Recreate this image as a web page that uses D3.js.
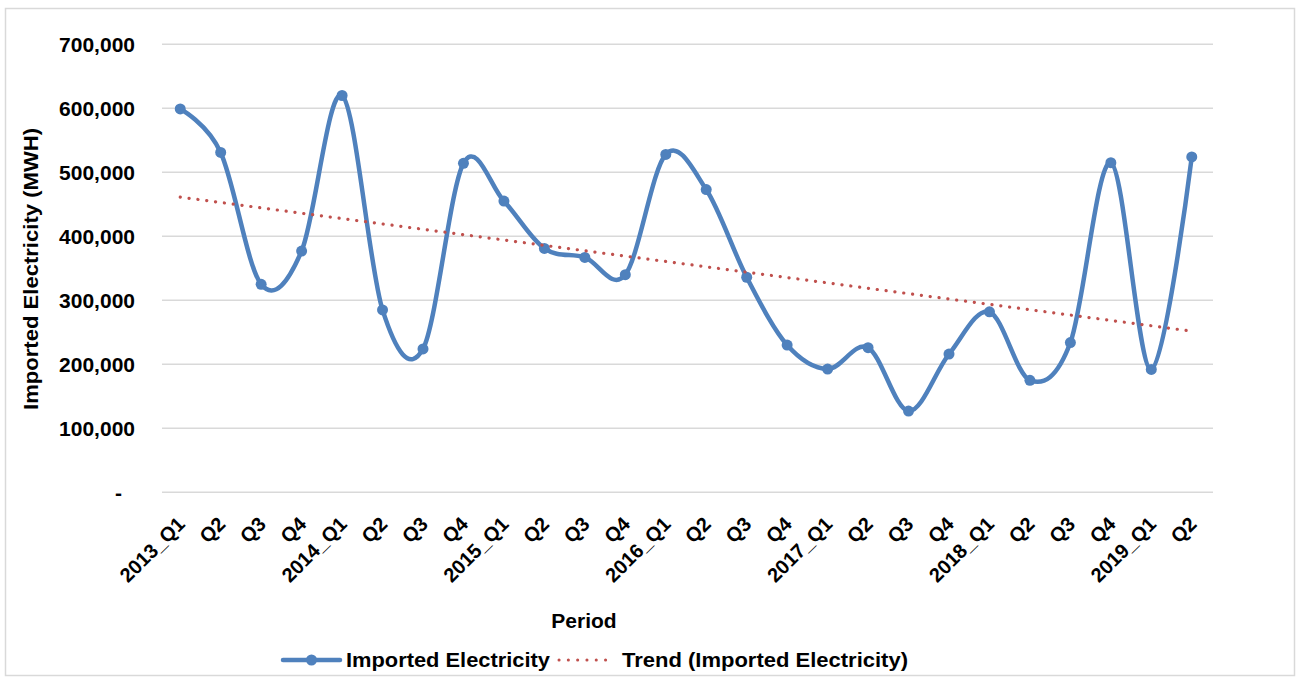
<!DOCTYPE html>
<html><head><meta charset="utf-8">
<script src="https://cdn.jsdelivr.net/npm/d3@7"></script>
<style>
body{margin:0;background:#fff}
text{font-family:"Liberation Sans",Arial,sans-serif;font-weight:bold;fill:#000}
</style>
</head><body>
<svg id="c" width="1296" height="677"></svg>
<script>
const categories = ["2013_Q1","Q2","Q3","Q4","2014_Q1","Q2 ","Q3 ","Q4 ","2015_Q1","Q2  ","Q3  ","Q4  ","2016_Q1","Q2   ","Q3   ","Q4   ","2017_Q1","Q2    ","Q3    ","Q4    ","2018_Q1","Q2     ","Q3     ","Q4     ","2019_Q1","Q2      "];
const values = [599000,531000,325000,377000,620000,285000,224000,514000,455000,381000,367000,340000,528000,473000,336000,230000,192500,226000,127000,216000,282000,175000,234000,515000,192000,524000];
const yTicks = [0,100000,200000,300000,400000,500000,600000,700000];
const seriesName = "Imported Electricity";
const trendName = "Trend (Imported Electricity)";
const xTitle = "Period";
const yTitle = "Imported Electricity (MWH)";

const svg = d3.select("#c");
const W = 1296, H = 677;
const plot = {left:160, right:1212, top:44.3, bottom:492.3};

// chart border
svg.append("rect").attr("x",5.5).attr("y",8.5).attr("width",W-7).attr("height",H-10)
  .attr("fill","none").attr("stroke","#d9d9d9").attr("stroke-width",1.5);

const x = d3.scaleBand().domain(categories).range([plot.left, plot.right]).padding(0);
const cx = d => x(d) + x.bandwidth()/2;
const y = d3.scaleLinear().domain([0,700000]).range([plot.bottom, plot.top]);

// gridlines
svg.append("g").selectAll("line").data(yTicks).join("line")
  .attr("x1",plot.left+2).attr("x2",plot.right+1)
  .attr("y1",d=>y(d)).attr("y2",d=>y(d))
  .attr("stroke","#d9d9d9").attr("stroke-width",1.5);

// y axis labels
const fmt = d3.format(",");
const yAxis = d3.axisLeft(y).tickValues(yTicks).tickSize(0).tickPadding(0)
  .tickFormat(d => d === 0 ? "-" : fmt(d));
const ya = svg.append("g").attr("transform",`translate(135,0)`).call(yAxis);
ya.select(".domain").remove();
ya.selectAll("text").attr("font-size",21).attr("font-family","'Liberation Sans',Arial,sans-serif")
  .attr("font-weight","bold").attr("fill","#000")
  .attr("dx", d => d===0 ? -13 : 0);

// x axis labels
const xAxis = d3.axisBottom(x).tickSize(0).tickPadding(0).tickFormat(d => d.trim());
const xa = svg.append("g").attr("transform",`translate(0,${plot.bottom})`).call(xAxis);
xa.select(".domain").remove();
xa.selectAll("text").attr("font-size",20).attr("font-family","'Liberation Sans',Arial,sans-serif")
  .attr("font-weight","bold").attr("fill","#000")
  .attr("text-anchor","end").attr("dy",0).attr("y",0)
  .attr("transform","translate(6,33) rotate(-45)");

// axis titles
svg.append("text").attr("x",584).attr("y",628).attr("text-anchor","middle").attr("font-size",21).text(xTitle);
svg.append("text").attr("transform","translate(38,269) rotate(-90)").attr("text-anchor","middle")
  .attr("font-size",21).attr("textLength",282).attr("lengthAdjust","spacingAndGlyphs").text(yTitle);

// series
const pts = categories.map((c,i)=>({c, v:values[i]}));
const line = d3.line().x(d=>cx(d.c)).y(d=>y(d.v)).curve(d3.curveCatmullRom.alpha(0));
svg.append("path").datum(pts).attr("d",line).attr("fill","none")
  .attr("stroke","#4f81bd").attr("stroke-width",4.5).attr("stroke-linejoin","round").attr("stroke-linecap","round");
svg.append("g").selectAll("circle").data(pts).join("circle")
  .attr("cx",d=>cx(d.c)).attr("cy",d=>y(d.v)).attr("r",5.5).attr("fill","#4f81bd");

// linear trendline (least squares on the series)
const n = values.length;
const xs = d3.range(1,n+1);
const mx = d3.mean(xs), my = d3.mean(values);
const slope = d3.sum(xs.map((xi,i)=>(xi-mx)*(values[i]-my))) / d3.sum(xs.map(xi=>(xi-mx)**2));
const icpt = my - slope*mx;
const trend = [pts[0], pts[n-1]].map((p,k)=>({c:p.c, v: icpt + slope*(k===0?1:n)}));
svg.append("path").datum(trend).attr("d",d3.line().x(d=>cx(d.c)).y(d=>y(d.v)))
  .attr("fill","none").attr("stroke","#c0504d").attr("stroke-width",3.2)
  .attr("stroke-dasharray","0.1 8.8").attr("stroke-linecap","round");

// legend
const lg = svg.append("g");
lg.append("line").attr("x1",283).attr("x2",340).attr("y1",660).attr("y2",660)
  .attr("stroke","#4f81bd").attr("stroke-width",4.5).attr("stroke-linecap","round");
lg.append("circle").attr("cx",311.5).attr("cy",660).attr("r",5.5).attr("fill","#4f81bd");
lg.append("text").attr("x",346).attr("y",667).attr("font-size",21)
  .attr("textLength",204).attr("lengthAdjust","spacingAndGlyphs").text(seriesName);
lg.append("line").attr("x1",559).attr("x2",614).attr("y1",660).attr("y2",660)
  .attr("stroke","#c0504d").attr("stroke-width",3).attr("stroke-dasharray","0.1 9.2").attr("stroke-linecap","round");
lg.append("text").attr("x",622).attr("y",667).attr("font-size",21)
  .attr("textLength",286).attr("lengthAdjust","spacingAndGlyphs").text(trendName);
</script>
</body></html>
